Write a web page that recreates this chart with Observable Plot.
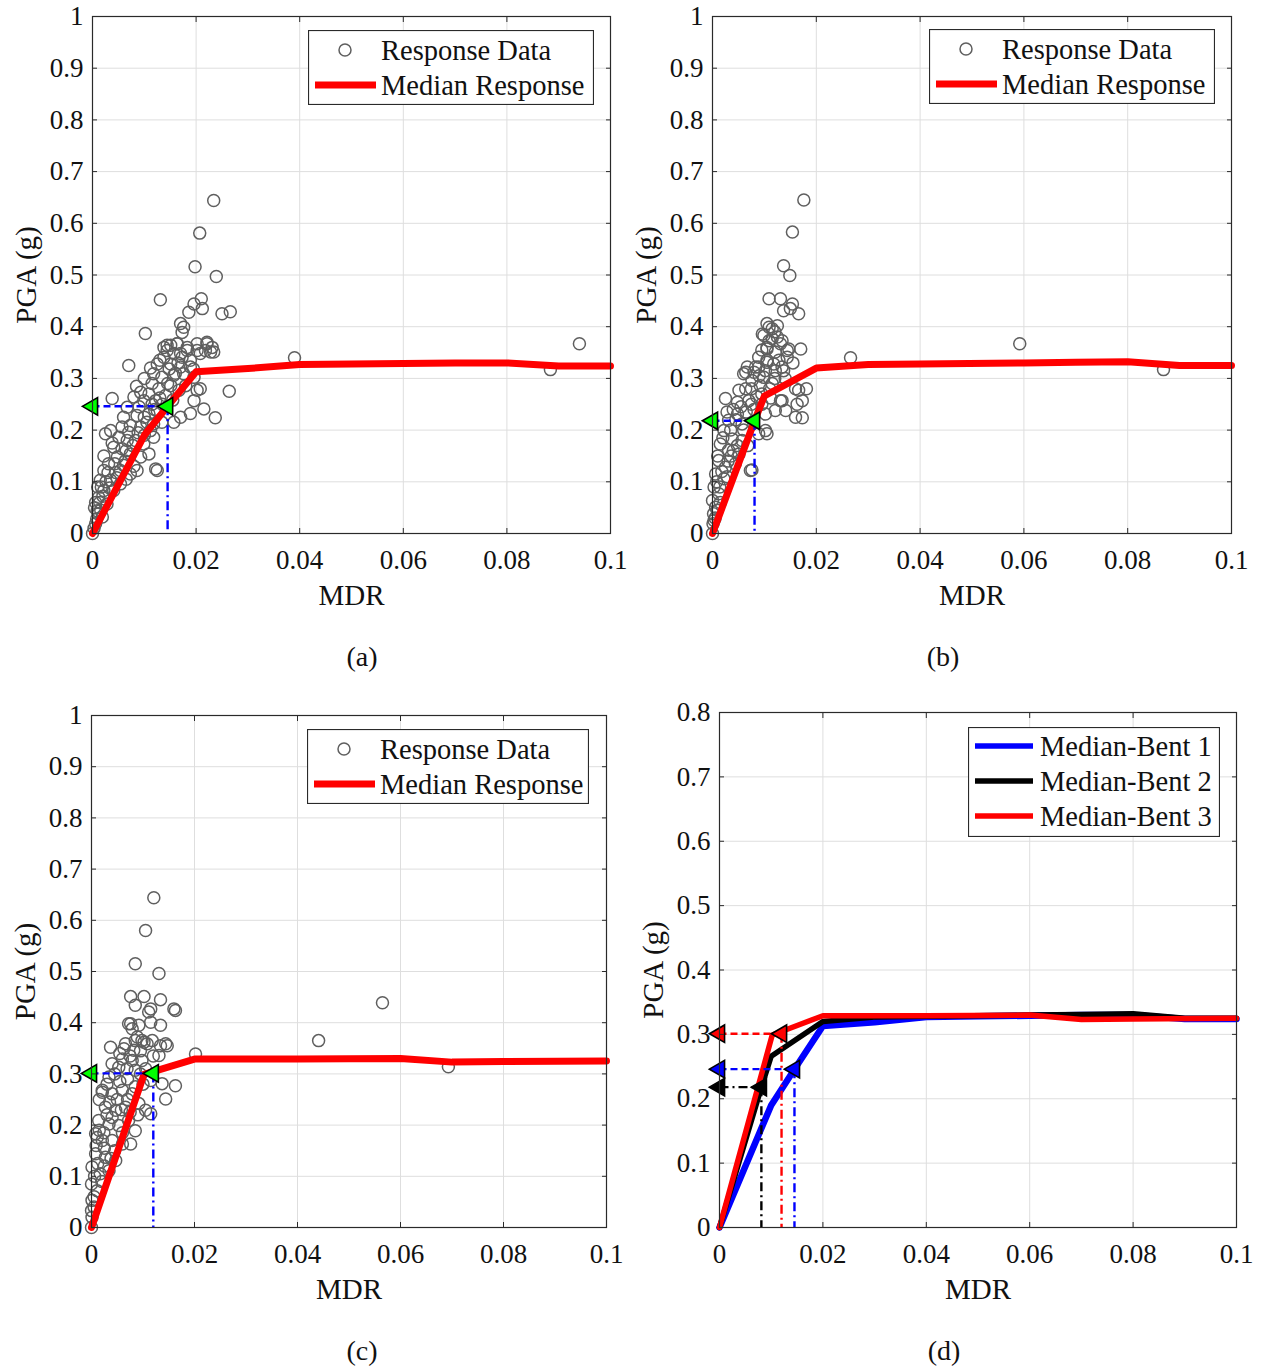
<!DOCTYPE html>
<html><head><meta charset="utf-8">
<script src="https://cdn.jsdelivr.net/npm/d3@7"></script>
<script src="https://cdn.jsdelivr.net/npm/@observablehq/plot@0.6"></script>
<style>
body{margin:0;background:#fff;}
#root{position:relative;width:1262px;height:1371px;font-family:"Liberation Serif","Times New Roman",serif;color:#111;}
.panel{position:absolute;}
.cap{position:absolute;font-size:28px;transform:translate(-50%,-50%);white-space:nowrap;}
.legend{position:absolute;}
</style></head><body><div id="root"></div>
<script>
// ---------- data ----------
const xTicks = [0, 0.02, 0.04, 0.06, 0.08, 0.1];
const yTicksABC = [0, 0.1, 0.2, 0.3, 0.4, 0.5, 0.6, 0.7, 0.8, 0.9, 1];
const yTicksD = [0, 0.1, 0.2, 0.3, 0.4, 0.5, 0.6, 0.7, 0.8];
const captions = ["(a)", "(b)", "(c)", "(d)"];
const xLabel = "MDR";
const yLabel = "PGA (g)";
const legendABC = ["Response Data", "Median Response"];
const legendD = ["Median-Bent 1", "Median-Bent 2", "Median-Bent 3"];

// Response data [MDR, PGA]
const respA = [
 [0.0234,0.644],[0.0207,0.581],[0.0198,0.516],[0.0239,0.497],[0.0131,0.452],[0.0210,0.454],[0.0196,0.444],[0.0212,0.435],
 [0.0186,0.428],[0.0250,0.425],[0.0266,0.429],[0.0170,0.406],[0.0176,0.399],[0.0173,0.389],[0.0102,0.387],[0.0221,0.367],
 [0.0231,0.360],[0.0234,0.351],[0.0202,0.354],[0.0138,0.360],[0.0151,0.364],[0.0163,0.367],[0.0144,0.354],[0.0170,0.348],
 [0.0183,0.354],[0.0070,0.325],[0.0208,0.280],[0.0264,0.275],[0.0196,0.257],[0.0215,0.241],[0.0237,0.224],[0.0189,0.232],
 [0.0038,0.261],[0.0025,0.193],[0.0125,0.122],[0.0390,0.340],[0.0884,0.317],[0.0940,0.367],
 [0.0144,0.364],[0.0164,0.367],[0.0183,0.360],[0.0202,0.367],[0.0221,0.370],[0.0218,0.354],[0.0157,0.348],[0.0138,0.341],
 [0.0173,0.341],[0.0189,0.335],[0.0208,0.348],[0.0228,0.351],[0.0125,0.328],[0.0151,0.328],[0.0170,0.322],[0.0189,0.322],
 [0.0118,0.309],[0.0134,0.302],[0.0157,0.306],[0.0176,0.309],[0.0196,0.302],[0.0115,0.290],[0.0128,0.280],[0.0151,0.286],
 [0.0167,0.277],[0.0180,0.286],[0.0109,0.270],[0.0093,0.273],[0.0080,0.264],[0.0099,0.257],[0.0122,0.257],[0.0141,0.267],
 [0.0202,0.277],[0.0170,0.225],[0.0157,0.215],[0.0125,0.238],[0.0109,0.231],[0.0086,0.228],[0.0067,0.244],[0.0060,0.225],
 [0.0057,0.206],[0.0073,0.209],[0.0093,0.206],[0.0112,0.199],[0.0118,0.212],[0.0134,0.215],[0.0035,0.199],[0.0051,0.186],
 [0.0067,0.180],[0.0083,0.180],[0.0099,0.173],[0.0118,0.186],[0.0041,0.167],[0.0057,0.164],[0.0073,0.154],[0.0093,0.148],
 [0.0109,0.154],[0.0048,0.148],[0.0031,0.135],[0.0054,0.122],[0.0073,0.115],[0.0086,0.122],[0.0122,0.125],[0.0022,0.122],
 [0.0015,0.103],[0.0035,0.103],[0.0054,0.096],[0.0022,0.083],[0.0041,0.083],[0.0012,0.070],[0.0028,0.057],[0.0009,0.044],
 [0.0019,0.032],[0.0006,0.019],[0.0000,0.000],
 [0.0003,0.010],[0.0008,0.028],[0.0004,0.050],[0.0014,0.060],[0.0017,0.090],[0.0026,0.100],[0.0030,0.118],[0.0043,0.135],
 [0.0063,0.140],[0.0065,0.160],[0.0078,0.170],[0.0100,0.190],[0.0105,0.215],[0.0090,0.245],[0.0115,0.250],[0.0130,0.262],
 [0.0145,0.290],[0.0160,0.310],[0.0130,0.335],[0.0112,0.320],[0.0022,0.150],[0.0010,0.090],[0.0006,0.060],[0.0016,0.045],
 [0.0047,0.108],[0.0038,0.175],[0.0080,0.130],[0.0065,0.105],
 [0.0011,0.038],[0.0020,0.072],[0.0033,0.088],[0.0045,0.118],[0.0060,0.132],[0.0070,0.196],[0.0088,0.195],[0.0100,0.225],
 [0.0120,0.240],[0.0135,0.250],[0.0155,0.258],[0.0148,0.318],[0.0165,0.330],[0.0195,0.318],[0.0100,0.300],[0.0085,0.285]
];
const respB = [
 [0.0176,0.645],[0.0154,0.583],[0.0137,0.518],[0.0149,0.499],[0.0109,0.454],[0.0131,0.454],[0.0154,0.444],[0.0137,0.431],
 [0.0150,0.435],[0.0166,0.425],[0.0105,0.406],[0.0115,0.396],[0.0096,0.386],[0.0125,0.380],[0.0109,0.373],[0.0131,0.367],
 [0.0170,0.357],[0.0144,0.354],[0.0105,0.360],[0.0067,0.322],[0.0080,0.312],[0.0089,0.322],[0.0105,0.331],[0.0118,0.328],
 [0.0134,0.322],[0.0099,0.302],[0.0060,0.309],[0.0166,0.277],[0.0181,0.280],[0.0131,0.257],[0.0141,0.238],[0.0173,0.224],
 [0.0163,0.250],[0.0025,0.261],[0.0105,0.193],[0.0076,0.123],[0.0266,0.340],[0.0592,0.367],[0.0869,0.317],
 [0.0109,0.399],[0.0125,0.402],[0.0099,0.383],[0.0115,0.377],[0.0134,0.373],[0.0147,0.357],[0.0105,0.357],[0.0121,0.351],
 [0.0089,0.341],[0.0105,0.335],[0.0128,0.335],[0.0144,0.341],[0.0083,0.322],[0.0102,0.315],[0.0121,0.315],[0.0137,0.315],
 [0.0064,0.312],[0.0076,0.296],[0.0092,0.286],[0.0115,0.290],[0.0064,0.280],[0.0051,0.277],[0.0048,0.254],[0.0070,0.257],
 [0.0134,0.257],[0.0160,0.280],[0.0173,0.257],[0.0160,0.225],[0.0121,0.238],[0.0102,0.231],[0.0048,0.231],[0.0031,0.219],
 [0.0057,0.212],[0.0089,0.193],[0.0102,0.199],[0.0022,0.199],[0.0038,0.183],[0.0057,0.180],[0.0015,0.173],[0.0031,0.161],
 [0.0051,0.154],[0.0012,0.141],[0.0025,0.128],[0.0044,0.135],[0.0073,0.122],[0.0006,0.115],[0.0022,0.106],[0.0003,0.090],
 [0.0012,0.077],[0.0000,0.064],[0.0006,0.051],[0.0002,0.038],[0.0003,0.025],[0.0001,0.019],[0.0000,0.000],
 [0.0008,0.100],[0.0018,0.120],[0.0030,0.140],[0.0040,0.160],[0.0010,0.150],[0.0020,0.185],[0.0035,0.200],[0.0045,0.220],
 [0.0065,0.235],[0.0075,0.250],[0.0085,0.265],[0.0095,0.270],[0.0110,0.280],[0.0120,0.300],[0.0090,0.305],[0.0075,0.280],
 [0.0060,0.200],[0.0068,0.170],[0.0015,0.060],[0.0009,0.045],[0.0040,0.240],[0.0028,0.235],
 [0.0005,0.030],[0.0014,0.090],[0.0028,0.110],[0.0036,0.150],[0.0048,0.170],[0.0055,0.245],[0.0080,0.240],[0.0095,0.250],
 [0.0112,0.262],[0.0140,0.300],[0.0155,0.330],[0.0095,0.355],[0.0120,0.390]
];
const respC = [
 [0.0121,0.644],[0.0105,0.580],[0.0085,0.515],[0.0131,0.496],[0.0076,0.451],[0.0102,0.451],[0.0134,0.445],[0.0085,0.434],
 [0.0115,0.427],[0.0160,0.427],[0.0111,0.421],[0.0076,0.398],[0.0115,0.401],[0.0134,0.395],[0.0079,0.388],[0.0089,0.372],
 [0.0098,0.365],[0.0108,0.359],[0.0134,0.355],[0.0147,0.355],[0.0037,0.352],[0.0063,0.349],[0.0082,0.346],[0.0202,0.339],
 [0.0163,0.277],[0.0144,0.251],[0.0115,0.222],[0.0021,0.264],[0.0076,0.163],[0.0011,0.176],[0.0441,0.365],[0.0565,0.439],
 [0.0693,0.314],
 [0.0072,0.398],[0.0092,0.395],[0.0163,0.424],[0.0066,0.359],[0.0085,0.365],[0.0102,0.362],[0.0118,0.365],[0.0144,0.359],
 [0.0131,0.336],[0.0060,0.329],[0.0079,0.326],[0.0098,0.326],[0.0053,0.313],[0.0069,0.310],[0.0085,0.307],[0.0034,0.294],
 [0.0115,0.287],[0.0137,0.281],[0.0021,0.268],[0.0040,0.261],[0.0060,0.268],[0.0079,0.261],[0.0027,0.235],[0.0047,0.229],
 [0.0066,0.235],[0.0092,0.242],[0.0105,0.229],[0.0014,0.209],[0.0034,0.202],[0.0053,0.199],[0.0072,0.209],[0.0085,0.189],
 [0.0008,0.183],[0.0021,0.170],[0.0040,0.170],[0.0060,0.163],[0.0008,0.144],[0.0027,0.137],[0.0047,0.131],[0.0001,0.118],
 [0.0017,0.105],[0.0034,0.111],[0.0000,0.085],[0.0011,0.072],[0.0001,0.053],[0.0000,0.033],[0.0001,0.020],[0.0000,0.000],
 [0.0015,0.250],[0.0030,0.280],[0.0045,0.300],[0.0055,0.285],[0.0070,0.290],[0.0095,0.300],[0.0105,0.310],[0.0050,0.250],
 [0.0030,0.220],[0.0015,0.190],[0.0025,0.155],[0.0012,0.125],[0.0006,0.100],[0.0020,0.090],[0.0005,0.060],[0.0045,0.150],
 [0.0060,0.185],[0.0090,0.220],[0.0075,0.225],[0.0035,0.245],[0.0055,0.340],[0.0095,0.345],[0.0120,0.335],
 [0.0005,0.040],[0.0009,0.160],[0.0024,0.185],[0.0040,0.215],[0.0058,0.230],[0.0070,0.250],[0.0085,0.275],[0.0100,0.280],
 [0.0040,0.320],[0.0075,0.335],[0.0025,0.120],[0.0038,0.135]
];

// Median response curves [MDR, PGA]
const medianBent1 = [[0,0],[0.0100,0.190],[0.0145,0.246],[0.0200,0.313],[0.0300,0.319],[0.0400,0.327],[0.0500,0.328],[0.0600,0.329],[0.0700,0.330],[0.0800,0.330],[0.0900,0.324],[0.1000,0.324]];
const medianBent2 = [[0,0],[0.0081,0.218],[0.0100,0.266],[0.0200,0.320],[0.0300,0.327],[0.0400,0.328],[0.0600,0.330],[0.0700,0.331],[0.0800,0.332],[0.0900,0.325],[0.1000,0.325]];
const medianBent3 = [[0,0],[0.0102,0.299],[0.0200,0.329],[0.0400,0.329],[0.0600,0.330],[0.0700,0.323],[0.0800,0.324],[0.1000,0.325]];

// Threshold (triangle) points: MDR and PGA for Bent 1, 2, 3
const threshMDR = [0.0145, 0.0081, 0.0120];
const threshPGA = [0.246, 0.218, 0.301];
const bentColors = ["#0000ff", "#000000", "#ff0000"];

// ---------- drawing ----------
const FONT = '"Liberation Serif","Times New Roman",serif';
const root = document.getElementById("root");
const fmt = d3.format("~g");
const blank = () => "";

function panel({box, frame, yDomain, yTicks, body}) {
  const [px, py, pw, ph] = box;
  const [x0, x1, y0, y1] = frame;
  const marks = [
    Plot.gridX(xTicks, {stroke: "#dedede", strokeOpacity: 1, strokeWidth: 1}),
    Plot.gridY(yTicks, {stroke: "#dedede", strokeOpacity: 1, strokeWidth: 1}),
    ...body,
    Plot.frame({stroke: "#2a2a2a", strokeWidth: 1.2}),
    Plot.axisX(xTicks, {anchor: "bottom", tickSize: -5, tickPadding: 21, tickFormat: fmt, label: null, fontSize: 27, fill: "#111", stroke: "#2a2a2a"}),
    Plot.axisY(yTicks, {anchor: "left", tickSize: -5, tickPadding: 14, tickFormat: fmt, label: null, fontSize: 27, fill: "#111", stroke: "#2a2a2a"}),
    Plot.axisX(xTicks, {anchor: "top", tickSize: -5, tickFormat: blank, label: null, stroke: "#2a2a2a"}),
    Plot.axisY(yTicks, {anchor: "right", tickSize: -5, tickFormat: blank, label: null, stroke: "#2a2a2a"}),
    Plot.text([xLabel], {frameAnchor: "bottom", dy: 71, fontSize: 29, fill: "#111"}),
    Plot.text([yLabel], {frameAnchor: "left", textAnchor: "middle", dx: -66, rotate: -90, fontSize: 29, fill: "#111"})
  ];
  const svg = Plot.plot({
    width: pw, height: ph,
    marginLeft: x0 - px, marginRight: px + pw - x1, marginTop: y0 - py, marginBottom: py + ph - y1,
    x: {domain: [0, 0.1]},
    y: {domain: yDomain},
    style: {fontFamily: FONT, background: "transparent", overflow: "visible"},
    marks
  });
  svg.classList.add("panel");
  svg.style.left = px + "px";
  svg.style.top = py + "px";
  root.appendChild(svg);
}

function refMarks(i, color, hDash) {
  const t = [{mdr: threshMDR[i], pga: threshPGA[i]}];
  return [
    Plot.link(t, {x1: () => 0, y1: "pga", x2: "mdr", y2: "pga", stroke: color, strokeWidth: 2.4, strokeDasharray: hDash}),
    Plot.link(t, {x1: "mdr", y1: "pga", x2: "mdr", y2: () => 0, stroke: color, strokeWidth: 2.4, strokeDasharray: "9,4,2,4"})
  ];
}
function triMarks(i, fill) {
  const t = [{mdr: threshMDR[i], pga: threshPGA[i]}];
  return [
    Plot.dot(t, {x: "mdr", y: "pga", symbol: "triangle", rotate: -90, r: 6.5, fill, stroke: "#000", strokeWidth: 1.6}),
    Plot.dot(t, {x: () => 0, y: "pga", symbol: "triangle", rotate: -90, r: 6.5, fill, stroke: "#000", strokeWidth: 1.6})
  ];
}
function scatterPanel(box, frame, resp, median, i) {
  panel({box, frame, yDomain: [0, 1], yTicks: yTicksABC, body: [
    Plot.dot(resp, {x: d => d[0], y: d => d[1], r: 6, stroke: "#5f5f5f", strokeWidth: 1.5, fill: "none"}),
    Plot.line(median, {x: d => d[0], y: d => d[1], stroke: "#ff0000", strokeWidth: 7}),
    ...refMarks(i, "#0000ff", "7,4"),
    ...triMarks(i, "#00ff00")
  ]});
}

scatterPanel([0, 0, 631, 630], [92, 610, 16, 533], respA, medianBent1, 0);
scatterPanel([631, 0, 631, 630], [712, 1231, 16, 533], respB, medianBent2, 1);
scatterPanel([0, 695, 631, 630], [91, 606, 715, 1227], respC, medianBent3, 2);

const medians = [medianBent1, medianBent2, medianBent3];
const widthsD = [6.5, 5.5, 5.5];
panel({box: [631, 695, 631, 630], frame: [719, 1236, 712, 1227], yDomain: [0, 0.8], yTicks: yTicksD, body: [
  ...medians.map((m, i) => Plot.line(m, {x: d => d[0], y: d => d[1], stroke: bentColors[i], strokeWidth: widthsD[i]})),
  ...refMarks(0, bentColors[0], "7,4"),
  ...refMarks(1, bentColors[1], "9,4,2,4"),
  ...refMarks(2, bentColors[2], "7,4"),
  ...triMarks(0, bentColors[0]),
  ...triMarks(1, bentColors[1]),
  ...triMarks(2, bentColors[2])
]});

// captions
[[362, 657], [943, 657], [362, 1351], [944, 1351]].forEach(([x, y], i) => {
  const d = document.createElement("div");
  d.className = "cap"; d.style.left = x + "px"; d.style.top = y + "px";
  d.textContent = captions[i];
  root.appendChild(d);
});

// legends
function legendBox(x, y, w, h) {
  const s = d3.select(root).append("svg").attr("class", "legend")
    .style("left", x + "px").style("top", y + "px").attr("width", w).attr("height", h);
  s.append("rect").attr("x", 0.5).attr("y", 0.5).attr("width", w - 1).attr("height", h - 1)
    .attr("fill", "#fff").attr("stroke", "#2a2a2a").attr("stroke-width", 1.2);
  return s;
}
function legendABCAt(x, y, w) {
  const s = legendBox(x, y, w, 75);
  s.append("circle").attr("cx", 37).attr("cy", 20).attr("r", 6).attr("fill", "none").attr("stroke", "#5f5f5f").attr("stroke-width", 1.5);
  s.append("line").attr("x1", 7).attr("x2", 68).attr("y1", 55).attr("y2", 55).attr("stroke", "#ff0000").attr("stroke-width", 7);
  legendABC.forEach((t, i) => s.append("text").attr("x", 73).attr("y", 20 + i * 35).attr("dy", "0.35em")
    .attr("font-family", FONT).attr("font-size", 28.5).attr("fill", "#111").text(t));
}
legendABCAt(308, 30, 286);
legendABCAt(929, 29, 286);
legendABCAt(307, 729, 282);

{
  const s = legendBox(968, 727, 252, 110);
  legendD.forEach((t, i) => {
    const y = 19 + i * 35;
    s.append("line").attr("x1", 7).attr("x2", 65).attr("y1", y).attr("y2", y).attr("stroke", bentColors[i]).attr("stroke-width", 5.5);
    s.append("text").attr("x", 72).attr("y", y).attr("dy", "0.35em").attr("font-family", FONT).attr("font-size", 28.5).attr("fill", "#111").text(t);
  });
}
</script></body></html>
